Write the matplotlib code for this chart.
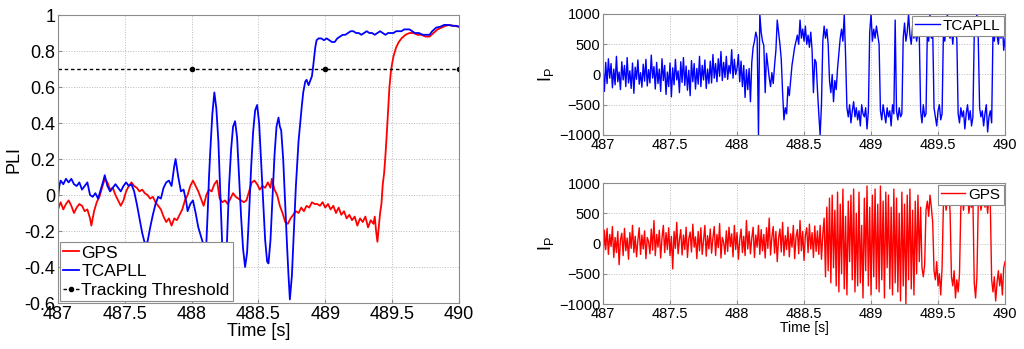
import matplotlib
matplotlib.use('Agg')
import matplotlib.pyplot as plt
import numpy as np

plt.rcParams['font.family'] = ['Liberation Sans', 'DejaVu Sans']
plt.rcParams['mathtext.default'] = 'regular'

# ---- PLI (left panel) ----
gps_t = [487.00, 487.02, 487.04, 487.06, 487.08, 487.10, 487.12, 487.14, 487.16, 487.18,
         487.20, 487.22, 487.24, 487.25, 487.27, 487.29, 487.31, 487.33, 487.35, 487.37,
         487.39, 487.41, 487.43, 487.45, 487.47, 487.49, 487.51, 487.53, 487.55, 487.57,
         487.59, 487.61, 487.63, 487.65, 487.67, 487.69, 487.71, 487.73, 487.75, 487.77,
         487.79, 487.81, 487.83, 487.85, 487.87, 487.89, 487.91, 487.93, 487.95, 487.97,
         487.99, 488.01, 488.03, 488.05, 488.07, 488.09, 488.11, 488.13, 488.15, 488.17,
         488.19, 488.21, 488.23, 488.25, 488.27, 488.29, 488.31, 488.33, 488.35, 488.37,
         488.39, 488.41, 488.43, 488.45, 488.47, 488.49, 488.51, 488.53, 488.55, 488.57,
         488.59, 488.60, 488.62, 488.64, 488.66, 488.68, 488.70, 488.72, 488.74, 488.76,
         488.78, 488.80, 488.82, 488.84, 488.86, 488.88, 488.90, 488.92, 488.94, 488.96,
         488.98, 489.00, 489.02, 489.04, 489.06, 489.08, 489.10, 489.12, 489.14, 489.16,
         489.18, 489.20, 489.22, 489.24, 489.26, 489.28, 489.30, 489.32, 489.34, 489.36,
         489.37, 489.38, 489.39, 489.40, 489.41, 489.42, 489.43, 489.44, 489.45, 489.46,
         489.47, 489.48, 489.49, 489.50, 489.51, 489.53, 489.55, 489.57, 489.60, 489.63,
         489.66, 489.69, 489.72, 489.75, 489.78, 489.81, 489.84, 489.87, 489.90, 489.93,
         489.96, 490.00]
gps_pli = [-0.08, -0.04, -0.08, -0.05, -0.03, -0.06, -0.10, -0.07, -0.05, -0.06,
           -0.09, -0.08, -0.13, -0.17, -0.09, -0.04, -0.01, 0.04, 0.09, 0.07,
           0.03, 0.04, 0.00, -0.03, -0.06, -0.03, 0.02, 0.05, 0.07, 0.05,
           0.04, 0.02, 0.03, 0.01, 0.00, -0.02, -0.01, -0.04, -0.06, -0.08,
           -0.12, -0.15, -0.13, -0.17, -0.13, -0.14, -0.11, -0.08, -0.03, 0.00,
           0.05, 0.08, 0.05, 0.02, -0.02, -0.06, 0.00, 0.03, 0.02, 0.06,
           0.08, -0.02, -0.04, -0.03, -0.05, -0.02, 0.01, -0.01, -0.02, -0.03,
           -0.04, -0.03, 0.02, 0.07, 0.08, 0.06, 0.03, 0.05, 0.04, 0.07,
           0.04, 0.09, 0.03, 0.00, -0.06, -0.10, -0.15, -0.16, -0.13, -0.11,
           -0.09, -0.10, -0.07, -0.09, -0.06, -0.07, -0.04, -0.05, -0.05, -0.06,
           -0.04, -0.07, -0.05, -0.08, -0.06, -0.10, -0.07, -0.11, -0.09, -0.13,
           -0.11, -0.14, -0.12, -0.17, -0.13, -0.15, -0.12, -0.18, -0.14, -0.16,
           -0.12, -0.20, -0.26, -0.18, -0.10, -0.05, 0.06, 0.12, 0.22, 0.34,
           0.47, 0.60, 0.68, 0.73, 0.77, 0.82, 0.85, 0.87, 0.89, 0.90,
           0.90, 0.89, 0.89, 0.88, 0.88, 0.90, 0.92, 0.93, 0.94, 0.945,
           0.94, 0.935]

tca_t = [487.00, 487.01, 487.02, 487.04, 487.06, 487.08, 487.10, 487.12, 487.14, 487.16,
         487.18, 487.20, 487.22, 487.24, 487.26, 487.28, 487.30, 487.32, 487.34, 487.35,
         487.37, 487.39, 487.41, 487.43, 487.45, 487.47, 487.49, 487.51, 487.53, 487.55,
         487.57, 487.59, 487.61, 487.63, 487.65, 487.67, 487.69, 487.71, 487.73, 487.75,
         487.77, 487.79, 487.81, 487.83, 487.85, 487.87, 487.88, 487.90, 487.92, 487.94,
         487.96, 487.97, 487.99, 488.01, 488.03, 488.05, 488.07, 488.09, 488.11, 488.12,
         488.13, 488.14, 488.155, 488.17, 488.185, 488.20, 488.21, 488.22, 488.23, 488.245,
         488.26, 488.27, 488.28, 488.295, 488.31, 488.325, 488.34, 488.355, 488.37, 488.385,
         488.40, 488.415, 488.43, 488.445, 488.46, 488.475, 488.49, 488.505, 488.52, 488.535,
         488.55, 488.565, 488.575, 488.59, 488.605, 488.62, 488.635, 488.65, 488.66, 488.67,
         488.685, 488.70, 488.715, 488.725, 488.735, 488.75, 488.765, 488.78, 488.80, 488.81,
         488.825, 488.835, 488.85, 488.86, 488.875, 488.885, 488.90, 488.91, 488.925, 488.935,
         488.95, 488.97, 488.99, 489.01, 489.03, 489.05, 489.07, 489.09, 489.11, 489.13,
         489.15, 489.17, 489.19, 489.21, 489.23, 489.25, 489.27, 489.29, 489.31, 489.33,
         489.35, 489.37, 489.39, 489.41, 489.43, 489.45, 489.47, 489.49, 489.51, 489.53,
         489.55, 489.57, 489.59, 489.61, 489.63, 489.65, 489.67, 489.70, 489.73, 489.76,
         489.78, 489.80, 489.83, 489.86, 489.89, 489.92, 489.95, 489.98, 490.00]
tca_pli = [-0.02, 0.05, 0.08, 0.06, 0.09, 0.07, 0.09, 0.06, 0.05, 0.07,
           0.03, 0.05, 0.07, 0.00, -0.01, 0.01, -0.02, 0.03, 0.08, 0.11,
           0.05, 0.02, 0.04, 0.06, 0.04, 0.02, 0.05, 0.07, 0.05, 0.06,
           0.02, -0.05, -0.13, -0.21, -0.27, -0.26, -0.18, -0.11, -0.05, -0.01,
           -0.02, 0.04, 0.07, 0.08, 0.05, 0.16, 0.20, 0.10, 0.02, 0.03,
           -0.04, -0.09, -0.05, -0.03, -0.10, -0.18, -0.23, -0.28, -0.27, -0.10,
           0.10, 0.25, 0.45, 0.57, 0.48, 0.30, 0.10, -0.10, -0.30, -0.43,
           -0.35, -0.15, 0.05, 0.25, 0.38, 0.41, 0.32, 0.10, -0.12, -0.30,
           -0.40, -0.32, -0.10, 0.15, 0.35, 0.47, 0.50, 0.40, 0.18, -0.05,
           -0.25, -0.37, -0.38, -0.25, -0.02, 0.22, 0.38, 0.43, 0.38, 0.36,
           0.20, -0.05, -0.30, -0.45, -0.58, -0.45, -0.20, 0.05, 0.30, 0.38,
           0.50, 0.57, 0.63, 0.64, 0.61, 0.63, 0.66, 0.72, 0.82, 0.86,
           0.87, 0.87, 0.86, 0.87, 0.86, 0.85, 0.85, 0.87, 0.88, 0.89,
           0.89, 0.90, 0.91, 0.91, 0.90, 0.90, 0.89, 0.90, 0.91, 0.90,
           0.90, 0.89, 0.90, 0.91, 0.90, 0.89, 0.90, 0.90, 0.90, 0.91,
           0.91, 0.91, 0.92, 0.92, 0.92, 0.91, 0.90, 0.90, 0.89, 0.89,
           0.89, 0.91, 0.93, 0.935, 0.945, 0.945, 0.94, 0.94, 0.935]

thr_t = [487.0, 488.0, 489.0, 490.0]
thr_pli = [0.7, 0.7, 0.7, 0.7]

# ---- I_P (right panels), one sample every 10 ms from 487.00 to 490.00 s ----
ip_t = np.round(np.arange(301) * 0.01 + 487.0, 2)

tca_ip = [
    120, -280, 200, -150, 260, -60, 180, -220, 90, -170, 300, -120, 40, -250, 210, -90, 150, -200, 280, -140,
    60, -230, 190, -310, 120, -80, 240, -160, 30, -210, 170, -110, 250, -190, 80, -140, 320, -60, 130, -240,
    200, -150, 90, -280, 260, -100, 150, -330, 40, -200, 190, -370, 110, -170, 250, -90, 60, -300, 210, -130,
    280, -180, 140, -260, 70, -350, 230, -120, 180, -240, 100, -160, 300, -200, 150, -90, 240, -230, 90, -150,
    220, -140, 330, -60, 180, -120, 260, -30, 380, -100, 200, -50, 300, -80, 150, 20, 410, -60, 250, 0,
    100, 330, -120, 220, -200, 150, -380, 80, -250, 100, -450, 200, 450, 550, 700, 600, -1000, 1000, 700, 550,
    480, -300, 350, 150, -50, -200, 30, -150, 150, 400, 900, 700, 500, 250, -300, -750, -550, -650, -200, -350,
    -100, 150, 300, 450, 550, 650, 500, 900, 600, 750, 550, 800, 500, 650, 450, 700, 400, -300, 250, 200,
    -250, -650, -1000, -500, 550, 800, 600, 750, 500, -100, -300, 0, -450, -100, -250, 100, 350, 600, 750, 550,
    1000, 300, -550, -700, -500, -800, -600, -450, -700, -550, -750, -600, -850, -500, -650, -700, -550, -900, -600, 700,
    1000, 550, 750, 600, 800, 650, 500, -600, -750, -500, -650, -800, -550, -700, -600, -850, -500, -650, 900, -600,
    -750, -550, -700, -650, 600, 850, 550, 700, 1000, 650, 500, 800, 600, 750, 550, 700, 650, -600, -800, -500,
    -700, -650, 700, 550, 1000, 600, 750, -550, -700, -850, -600, -500, -750, -650, 700, 550, 800, 1000, 650, 600,
    750, 500, 800, 650, 600, -650, -800, -550, -700, -600, -900, -650, -500, -750, -600, -850, -700, 650, 800, 1000,
    600, -550, -700, -600, -850, -650, -500, -950, -700, -600, -800, 700, 550, 800, 650, 500, 750, 600, 850, 400,
    600]

gps_ip = [
    -300, 220, -100, 250, -180, 150, -50, 280, -230, 100, -150, 200, -350, 60, 170, -200, 250, -120, 90, -260,
    180, -80, 300, -150, 120, -220, 50, 260, -180, 140, -90, 210, -250, 100, 30, -170, 240, -110, 380, -200,
    150, -60, 220, -240, 90, 300, -150, 180, -100, 260, -200, 120, -420, 200, -80, 350, -170, 60, 230, -190,
    140, -100, 270, -230, 80, 190, -140, 320, -60, 110, -250, 200, -120, 260, -180, 50, 300, -210, 130, -90,
    240, -160, 90, 280, -200, 150, -70, 330, -240, 100, 20, -180, 210, -130, 270, -50, 160, -220, 300, -100,
    180, -260, 60, 240, -150, 120, -200, 380, -90, 200, -170, 90, 270, -230, 140, -60, 300, -180, 230, -120,
    150, -240, 260, -80, 420, -190, 110, 280, -160, 200, -300, 90, 240, -140, 350, -200, 130, -100, 270, -220,
    160, -60, 300, -250, 110, 230, -170, 380, -120, 200, -280, 140, 260, -150, 320, -90, 180, -230, 290, -130,
    210, -180, 300, -260, 150, 420, -550, 600, -450, 750, -650, 800, -400, 550, -700, 850, -800, 650, -500, 900,
    -750, 450, -850, 700, -300, 800, -600, 900, -800, 500, -700, 850, -650, 300, -900, 750, -450, 950, -700, 600,
    -850, 800, -550, 900, -750, 650, -800, 950, -600, 700, -900, 850, -400, 800, -750, 600, -850, 900, -650, 750,
    -800, 500, -950, 850, -700, 650, -1000, 800, -600, 900, -750, 550, -850, 700, -500, 800, -300, 600, -400, -550,
    -350, 550, 700, 450, 800, 600, 350, -450, -600, -300, -700, -500, -850, -400, 650, 800, 550, 700, 900, 500,
    -550, -700, -450, -900, -600, -800, -500, 600, 750, 550, 800, 650, 900, 500, 700, 600, 750, -650, -900, -550,
    650, 800, 550, 700, 900, 600, 750, 500, 800, 650, -600, -800, -550, -950, -650, -450, -700, -500, -850, -400,
    -300]

pli_ticks = [-0.6, -0.4, -0.2, 0, 0.2, 0.4, 0.6, 0.8, 1]
pli_labels = ['-0.6', '-0.4', '-0.2', '0', '0.2', '0.4', '0.6', '0.8', '1']
time_ticks = [487, 487.5, 488, 488.5, 489, 489.5, 490]
time_labels = ['487', '487.5', '488', '488.5', '489', '489.5', '490']
ip_ticks = [-1000, -500, 0, 500, 1000]


def style(ax, fs):
    ax.grid(True, linestyle=':', color='#b8b8b8', linewidth=0.7)
    ax.set_axisbelow(True)
    for s in ax.spines.values():
        s.set_color('#8c8c8c')
        s.set_linewidth(0.8)
    ax.tick_params(direction='in', length=3, color='#8c8c8c', labelsize=fs, pad=2)
    ax.set_xlim(487, 490)
    ax.set_xticks(time_ticks)
    ax.set_xticklabels(time_labels)


def box(leg):
    leg.get_frame().set_edgecolor('#8c8c8c')
    leg.get_frame().set_linewidth(0.8)


fig = plt.figure(figsize=(10.24, 3.49), dpi=100)

ax1 = fig.add_axes([0.0566, 0.1318, 0.3916, 0.8252])
ax1.plot(gps_t, gps_pli, color='#ff0000', lw=1.3, label='GPS')
ax1.plot(tca_t, tca_pli, color='#0000ff', lw=1.3, label='TCAPLL')
ax1.plot(thr_t, thr_pli, color='black', lw=1.0, ls='--', dashes=(2.5, 2), marker='.', ms=6,
         markevery=[1, 2, 3], label='Tracking Threshold')
style(ax1, 13)
ax1.set_ylim(-0.6, 1)
ax1.set_yticks(pli_ticks)
ax1.set_yticklabels(pli_labels)
ax1.set_ylabel('PLI', fontsize=13, labelpad=1)
ax1.set_xlabel('Time [s]', fontsize=13, labelpad=0)
leg = ax1.legend(loc='lower left', fontsize=12.5, handlelength=0.9, handletextpad=0.15,
                 borderpad=0.2, labelspacing=0.2, borderaxespad=0.1, fancybox=False,
                 framealpha=1)
box(leg)

ax2 = fig.add_axes([0.5889, 0.6132, 0.3926, 0.3467])
ax2.plot(ip_t, tca_ip, color='#0000ff', lw=1.0, label='TCAPLL')
style(ax2, 10.5)
ax2.set_ylim(-1000, 1000)
ax2.set_yticks(ip_ticks)
ax2.set_ylabel('I$_P$', fontsize=13, labelpad=2)
box(ax2.legend(loc='upper right', fontsize=11, handlelength=1.6, handletextpad=0.2,
               borderpad=0.2, borderaxespad=0.1, fancybox=False, framealpha=1))

ax3 = fig.add_axes([0.5889, 0.1289, 0.3926, 0.3467])
ax3.plot(ip_t, gps_ip, color='#ff0000', lw=1.0, label='GPS')
style(ax3, 10.5)
ax3.set_ylim(-1000, 1000)
ax3.set_yticks(ip_ticks)
ax3.set_ylabel('I$_P$', fontsize=13, labelpad=2)
ax3.set_xlabel('Time [s]', fontsize=10, labelpad=0)
box(ax3.legend(loc='upper right', fontsize=11, handlelength=1.6, handletextpad=0.2,
               borderpad=0.2, borderaxespad=0.1, fancybox=False, framealpha=1))

fig.savefig('out.png', dpi=100)
